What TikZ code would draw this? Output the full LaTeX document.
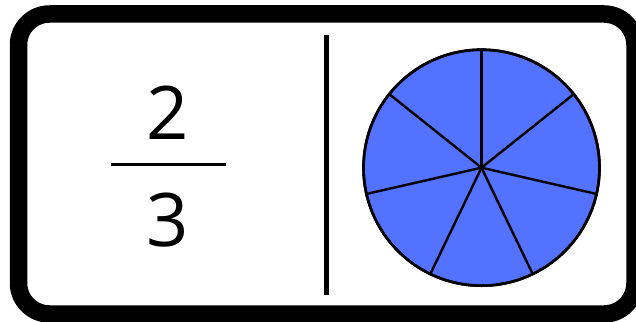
\documentclass[tikz,border=0pt]{standalone}
\usepackage{fontspec}
\setmainfont{Open Sans}
\definecolor{pieblue}{RGB}{82,114,255}
\begin{document}
\begin{tikzpicture}[x=1pt,y=-1pt,
  frame/.style={draw=black,line width=17.5pt,rounded corners=31pt},
  digit/.style={inner sep=0pt,font=\fontsize{74}{80}\selectfont},
  spoke/.style={draw=black,line width=2.4pt},
  pie/.style={draw=black,line width=2.6pt,fill=pieblue}]
\useasboundingbox (0,0) rectangle (636,321);
\fill[white] (0,0) rectangle (636,321);
\draw[frame] (18.5,14) rectangle (635,314);
\node[digit] (num) at (168,113) {2};
\node[digit] (den) at (168,220.5) {3};
\draw[line width=3pt] (111,164) -- (226,164);
\draw[line width=5pt] (326,35) -- (326,295);
\node[pie,circle,minimum size=236pt,inner sep=0pt] (pie) at (481.5,167.7) {};
\coordinate (c) at (481.5,167.7);
\foreach \a in {90,38.571,-12.857,-64.286,-115.714,-167.143,141.429}
  \draw[spoke] (c) -- ++(\a:118pt);
\draw[black,line width=2.6pt] (c) circle[radius=118pt];
\end{tikzpicture}
\end{document}
